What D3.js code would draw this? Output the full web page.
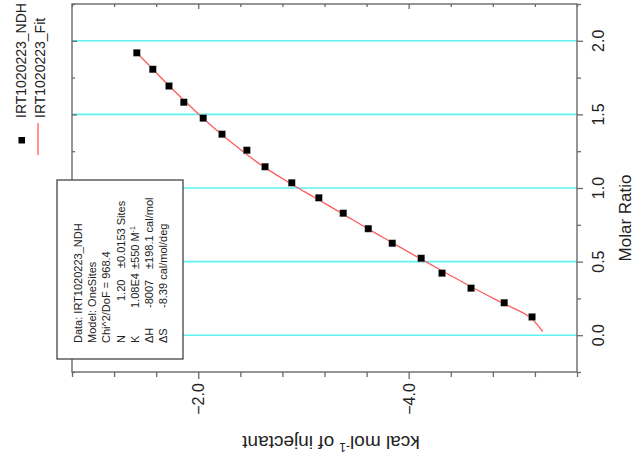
<!DOCTYPE html>
<html>
<head>
<meta charset="utf-8">
<script src="https://cdn.jsdelivr.net/npm/d3@7"></script>
<style>
  html, body { margin: 0; padding: 0; background: #fff; }
  svg { display: block; font-family: "Liberation Sans", Arial, sans-serif; }
</style>
</head>
<body>
<svg id="chart" width="634" height="464"></svg>
<script>
// ---- data ----
const molarRatio = [1.919, 1.806, 1.693, 1.582, 1.474, 1.365, 1.256, 1.145, 1.036, 0.934, 0.828, 0.724, 0.624, 0.522, 0.421, 0.319, 0.221, 0.124];
const heat       = [-1.415, -1.567, -1.722, -1.862, -2.048, -2.226, -2.461, -2.635, -2.888, -3.145, -3.379, -3.617, -3.845, -4.120, -4.317, -4.593, -4.909, -5.173];
const fitRatio   = [1.919, 1.806, 1.693, 1.582, 1.474, 1.365, 1.256, 1.145, 1.036, 0.934, 0.828, 0.724, 0.624, 0.522, 0.421, 0.319, 0.221, 0.124, 0.024];
const fitHeat    = [-1.415, -1.570, -1.725, -1.885, -2.045, -2.220, -2.410, -2.620, -2.865, -3.110, -3.365, -3.610, -3.855, -4.105, -4.360, -4.620, -4.885, -5.150, -5.274];
const ratioMajorTicks = [0.0, 0.5, 1.0, 1.5, 2.0];
const ratioMinorTicks = [-0.25, 0.25, 0.75, 1.25, 1.75, 2.25];
const heatMajorTicks  = [-2.0, -4.0];
const heatMinorTicks  = [-0.8, -1.2, -1.6, -2.4, -2.8, -3.2, -3.6, -4.4, -4.8, -5.2, -5.6];
const seriesNames = ["IRT1020223_NDH", "IRT1020223_Fit"];
const fitRows = [
  ["Data: IRT1020223_NDH"],
  ["Model: OneSites"],
  ["Chi^2/DoF = 968.4"],
  ["N", "1.20", "\u00B10.0153 Sites"],
  ["K", "1.08E4", "\u00B1550 M", "-1"],
  ["\u0394H", "-8007", "\u00B1198.1 cal/mol"],
  ["\u0394S", "-8.39 cal/mol/deg"]
];

// ---- layout (chart is shown rotated 90deg CCW) ----
const L = 72, R = 577, T = 4, B = 372;
const svg = d3.select("#chart");
const y = d3.scaleLinear().domain([-0.25, 2.25]).range([B, T]);   // molar ratio -> vertical
const x = d3.scaleLinear().domain([-0.8, -5.6]).range([L, R]);    // kcal/mol -> horizontal

const axisColor = "#6a6a6a";

// grid lines
svg.append("g").selectAll("line").data(ratioMajorTicks).join("line")
  .attr("x1", L).attr("x2", R)
  .attr("y1", d => y(d)).attr("y2", d => y(d))
  .attr("stroke", "#5ef2f2").attr("stroke-width", 1.6);

// frame
svg.append("rect").attr("x", L).attr("y", T).attr("width", R - L).attr("height", B - T)
  .attr("fill", "none").attr("stroke", axisColor).attr("stroke-width", 1.4);

function styleAxis(g) {
  g.select(".domain").remove();
  g.selectAll(".tick line").attr("stroke", axisColor).attr("stroke-width", 1.3);
  g.selectAll(".tick text").remove();
}
// right axis (outward)
svg.append("g").attr("transform", `translate(${R},0)`)
  .call(d3.axisRight(y).tickValues(ratioMajorTicks).tickSize(6).tickFormat("")).call(styleAxis);
svg.append("g").attr("transform", `translate(${R},0)`)
  .call(d3.axisRight(y).tickValues(ratioMinorTicks).tickSize(4).tickFormat("")).call(styleAxis);
// left axis (inward)
svg.append("g").attr("transform", `translate(${L},0)`)
  .call(d3.axisRight(y).tickValues(ratioMajorTicks).tickSize(5).tickFormat("")).call(styleAxis);
svg.append("g").attr("transform", `translate(${L},0)`)
  .call(d3.axisRight(y).tickValues(ratioMinorTicks).tickSize(3).tickFormat("")).call(styleAxis);
// bottom axis (outward)
svg.append("g").attr("transform", `translate(0,${B})`)
  .call(d3.axisBottom(x).tickValues(heatMajorTicks).tickSize(7).tickFormat("")).call(styleAxis);
svg.append("g").attr("transform", `translate(0,${B})`)
  .call(d3.axisBottom(x).tickValues(heatMinorTicks).tickSize(5).tickFormat("")).call(styleAxis);
// top axis (inward)
svg.append("g").attr("transform", `translate(0,${T})`)
  .call(d3.axisBottom(x).tickValues(heatMajorTicks).tickSize(5).tickFormat("")).call(styleAxis);
svg.append("g").attr("transform", `translate(0,${T})`)
  .call(d3.axisBottom(x).tickValues(heatMinorTicks).tickSize(3).tickFormat("")).call(styleAxis);

// tick labels
svg.append("g").selectAll("text").data(ratioMajorTicks).join("text")
  .attr("transform", d => `translate(${R + 27},${y(d)}) rotate(-90)`)
  .attr("text-anchor", "middle").attr("font-size", 16).attr("fill", "#222")
  .text(d => d3.format(".1f")(d));
svg.append("g").selectAll("text").data(heatMajorTicks).join("text")
  .attr("transform", d => `translate(${x(d) + 6},399) rotate(-90)`)
  .attr("text-anchor", "middle").attr("font-size", 16).attr("fill", "#222")
  .text(d => d3.format(".1f")(d));

// axis titles
svg.append("text").attr("transform", "translate(631,218) rotate(-90)")
  .attr("text-anchor", "middle").attr("font-size", 17).attr("fill", "#222").text("Molar Ratio");
const yt = svg.append("text").attr("transform", "translate(331,436) rotate(180)")
  .attr("text-anchor", "middle").attr("font-size", 19).attr("fill", "#222");
yt.append("tspan").text("kcal mol");
yt.append("tspan").attr("dy", -7).attr("font-size", 12).text("-1");
yt.append("tspan").attr("dy", 7).text(" of injectant");

// fit line
const pts = fitRatio.map((r, i) => [r, fitHeat[i]]);
svg.append("path").datum(pts)
  .attr("d", d3.line().x(d => x(d[1])).y(d => y(d[0])).curve(d3.curveCatmullRom))
  .attr("fill", "none").attr("stroke", "#ff5c5c").attr("stroke-width", 1.3);

// data markers
const ms = 7;
svg.append("g").selectAll("rect").data(molarRatio.map((r, i) => [r, heat[i]])).join("rect")
  .attr("x", d => x(d[1]) - ms / 2).attr("y", d => y(d[0]) - ms / 2)
  .attr("width", ms).attr("height", ms)
  .attr("fill", "#000").attr("stroke", "#999").attr("stroke-width", 0.4);

// fit results box
svg.append("rect").attr("x", 57).attr("y", 180).attr("width", 126).attr("height", 179)
  .attr("fill", "#fff").attr("stroke", "#444").attr("stroke-width", 1.3);
const rowX = [82, 96, 110, 124.5, 139, 152.5, 167];
const colY = [343, 308, 269];
fitRows.forEach((row, i) => {
  const cols = row.length === 1 ? [row[0]] : row.slice(0, 3);
  cols.forEach((t, j) => {
    let start = colY[j];
    if (i === 3 && j === 1) start = 301;
    if (i === 3 && j === 2) start = 268;
    const tx = svg.append("text")
      .attr("transform", `translate(${rowX[i]},${start}) rotate(-90)`)
      .attr("font-size", 11).attr("fill", "#222").text(t);
    if (row.length === 4 && j === 2) {
      tx.append("tspan").attr("dy", -4).attr("font-size", 7).text(row[3]);
    }
  });
});

// legend
svg.append("rect").attr("x", 18.5).attr("y", 137).attr("width", 6.5).attr("height", 6.5).attr("fill", "#000");
svg.append("line").attr("x1", 38).attr("x2", 38).attr("y1", 123).attr("y2", 155)
  .attr("stroke", "#ff5c5c").attr("stroke-width", 1.3);
svg.append("g").selectAll("text").data(seriesNames).join("text")
  .attr("transform", (d, i) => `translate(${26 + i * 19},118) rotate(-90)`)
  .attr("font-size", 14).attr("fill", "#222").text(d => d);
</script>
</body>
</html>
